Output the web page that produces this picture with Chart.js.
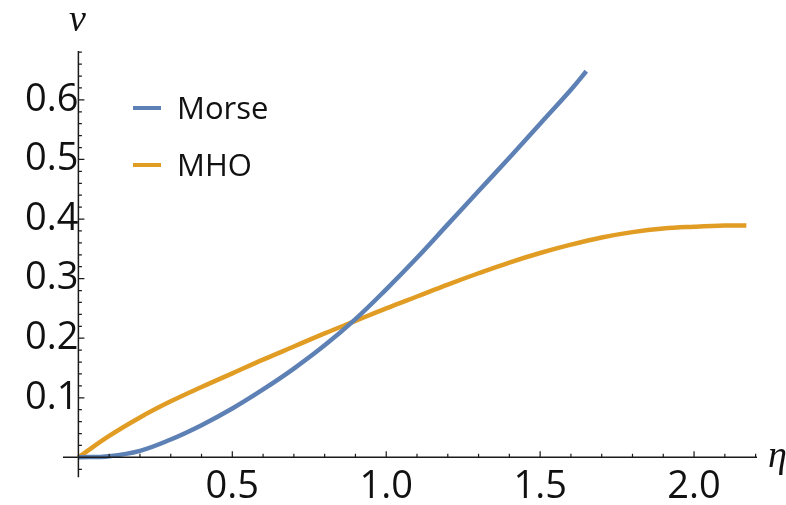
<!DOCTYPE html>
<html>
<head>
<meta charset="utf-8">
<script src="https://cdn.jsdelivr.net/npm/chart.js@4.4.1/dist/chart.umd.min.js"></script>
<style>
  html, body { margin: 0; padding: 0; background: #fff; }
</style>
</head>
<body>
<canvas id="plot" width="786" height="505"></canvas>
<script>
// Werte
const etaMorse = [0, 0.1, 0.2, 0.3, 0.4, 0.5, 0.6, 0.7, 0.8, 0.9, 1.0, 1.1, 1.2, 1.3, 1.4, 1.5, 1.6, 1.65];
const nuMorse  = [0, 0.002, 0.011, 0.030, 0.054, 0.082, 0.114, 0.149, 0.188, 0.232, 0.282, 0.335, 0.391, 0.447, 0.503, 0.560, 0.617, 0.648];

const etaMHO = [0, 0.1, 0.2, 0.3, 0.4, 0.5, 0.6, 0.7, 0.8, 0.9, 1.0, 1.1, 1.2, 1.3, 1.4, 1.5, 1.6, 1.7, 1.8, 1.9, 2.0, 2.1, 2.17];
const nuMHO  = [0, 0.036, 0.067, 0.094, 0.118, 0.141, 0.164, 0.186, 0.208, 0.229, 0.250, 0.270, 0.290, 0.309, 0.327, 0.343, 0.357, 0.369, 0.378, 0.384, 0.387, 0.389, 0.389];

const seriesNames = ["Morse", "MHO"];
const seriesColors = ["#5e81b5", "#e19c24"];

const xTicks = [0.5, 1.0, 1.5, 2.0];
const yTicks = [0.1, 0.2, 0.3, 0.4, 0.5, 0.6];

const tickFont = { family: "Open Sans", size: 38 };

function toPoints(xs, ys) {
    return xs.map((x, i) => ({ x: x, y: ys[i] }));
}

// Achsen, Teilstriche, Achsentitel und Legende
const axesPlugin = {
    id: "axesPlugin",
    afterDraw(chart) {
        const ctx = chart.ctx;
        const sx = chart.scales.x;
        const sy = chart.scales.y;
        const x0 = sx.getPixelForValue(0);
        const y0 = sy.getPixelForValue(0);

        ctx.save();
        ctx.strokeStyle = "#1a1a1a";
        ctx.lineWidth = 1.5;
        ctx.beginPath();
        ctx.moveTo(sx.left, y0);
        ctx.lineTo(sx.right, y0);
        ctx.moveTo(x0, sy.top);
        ctx.lineTo(x0, sy.bottom);
        ctx.stroke();

        ctx.lineWidth = 1.2;
        ctx.beginPath();
        for (let i = 1; i <= 22; i++) {
            const px = sx.getPixelForValue(i / 10);
            const len = i % 5 == 0 ? 6 : 3.5;
            ctx.moveTo(px, y0);
            ctx.lineTo(px, y0 - len);
        }
        for (let i = -1; i <= 34; i++) {
            if (i == 0) continue;
            const py = sy.getPixelForValue(i * 0.02);
            const len = i % 5 == 0 ? 6 : 3.5;
            ctx.moveTo(x0, py);
            ctx.lineTo(x0 + len, py);
        }
        ctx.stroke();

        ctx.fillStyle = "#111";
        ctx.font = "italic 38px 'Liberation Serif'";
        ctx.textAlign = "center";
        ctx.textBaseline = "alphabetic";
        ctx.fillText("\u03bd", x0 - 1, 31);
        ctx.textAlign = "left";
        ctx.fillText("\u03b7", sx.right + 11, 467);

        // Legende
        const legendY = [108, 165];
        chart.data.datasets.forEach((ds, i) => {
            ctx.strokeStyle = ds.borderColor;
            ctx.lineWidth = 4;
            ctx.beginPath();
            ctx.moveTo(133, legendY[i]);
            ctx.lineTo(161, legendY[i]);
            ctx.stroke();
            ctx.fillStyle = "#111";
            ctx.font = "31px 'Open Sans'";
            ctx.textAlign = "left";
            ctx.fillText(ds.label, 177, legendY[i] + 11);
        });
        ctx.restore();
    }
};

const chart = new Chart(document.getElementById("plot"), {
    type: "scatter",
    data: {
        datasets: [
            {
                label: seriesNames[0],
                data: toPoints(etaMorse, nuMorse),
                borderColor: seriesColors[0],
                borderWidth: 4.5,
                showLine: true,
                pointRadius: 0,
                tension: 0.4,
                borderCapStyle: "butt"
            },
            {
                label: seriesNames[1],
                data: toPoints(etaMHO, nuMHO),
                borderColor: seriesColors[1],
                borderWidth: 4.5,
                showLine: true,
                pointRadius: 0,
                tension: 0.4,
                borderCapStyle: "butt"
            }
        ]
    },
    options: {
        responsive: false,
        animation: false,
        devicePixelRatio: 1,
        layout: { padding: { left: 63, right: 29, top: 51, bottom: 25 } },
        plugins: {
            legend: { display: false },
            tooltip: { enabled: false }
        },
        scales: {
            x: {
                type: "linear",
                min: -0.05,
                max: 2.2045,
                position: { y: 0 },
                grid: { display: false, drawTicks: false },
                border: { display: false },
                afterBuildTicks: (scale) => { scale.ticks = xTicks.map((v) => ({ value: v })); },
                ticks: {
                    font: tickFont,
                    color: "#111",
                    padding: 7,
                    maxRotation: 0,
                    autoSkip: false,
                    callback: (v) => v.toFixed(1)
                }
            },
            y: {
                type: "linear",
                min: -0.0333,
                max: 0.682,
                position: { x: 0 },
                grid: { display: false, drawTicks: false },
                border: { display: false },
                afterBuildTicks: (scale) => { scale.ticks = yTicks.map((v) => ({ value: v })); },
                ticks: {
                    font: tickFont,
                    color: "#111",
                    padding: 5,
                    autoSkip: false,
                    callback: (v) => v.toFixed(1)
                }
            }
        }
    },
    plugins: [axesPlugin]
});
</script>
</body>
</html>
